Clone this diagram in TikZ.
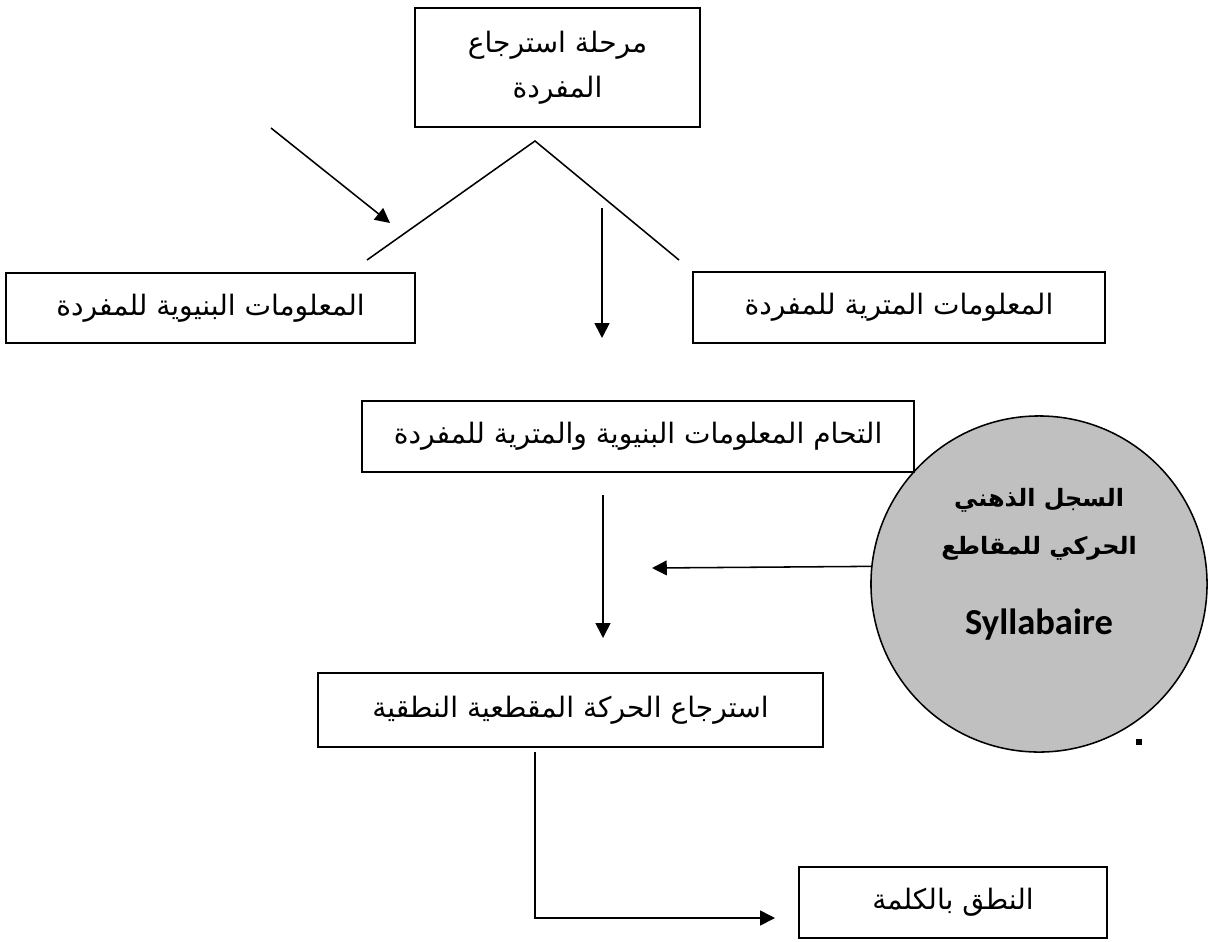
\documentclass[tikz,border=0pt]{standalone}
\usepackage{fontspec}
\usepackage{tikz}
\usetikzlibrary{arrows.meta, shapes.geometric}
\newfontfamily\arabicfont[Script=Arabic]{DejaVu Sans}
\newfontfamily\latinbold{Carlito}
\TeXXeTstate=1
\tikzset{
  box/.style = {draw, line width=1.3pt, fill=white, inner sep=0pt, font=\arabicfont\fontsize{20}{32}\selectfont, align=center},
  conn/.style = {line width=1.1pt},
  arr/.style = {conn, -{Triangle[length=10.5pt, width=10.5pt]}}
}

\begin{document}
\begin{tikzpicture}[x=0.025cm, y=-0.025cm]
    \useasboundingbox (0,0) rectangle (1208,941);
    % Cerchio del sillabario
    \node[circle, draw, line width=1.1pt, fill={rgb,255:red,192;green,192;blue,192}, minimum size=8.4cm, inner sep=0pt] (syl) at (1039,584) {};
    \node[font=\arabicfont\bfseries\fontsize{17}{26}\selectfont] (syla) at (1039,500) {\beginR السجل الذهني\endR};
    \node[font=\arabicfont\bfseries\fontsize{17}{26}\selectfont] (sylb) at (1039,548) {\beginR الحركي للمقاطع\endR};
    \node[font=\latinbold\bfseries\fontsize{26}{30}\selectfont] (sylc) at (1039,625) {Syllabaire};
    % Riquadri
    \node[box, minimum width=7.125cm, minimum height=2.975cm] (tappa) at (557.5,67.5) {\beginR مرحلة استرجاع\endR\\\beginR المفردة\endR};
    \node[box, minimum width=10.225cm, minimum height=1.75cm] (strut) at (210.5,308) {\beginR المعلومات البنيوية للمفردة\endR};
    \node[box, minimum width=10.3cm, minimum height=1.775cm] (metr) at (899,307.5) {\beginR المعلومات المترية للمفردة\endR};
    \node[box, minimum width=13.8cm, minimum height=1.775cm] (fus) at (638,436.5) {\beginR التحام المعلومات البنيوية والمترية للمفردة\endR};
    \node[box, minimum width=12.625cm, minimum height=1.85cm] (recup) at (570.5,710) {\beginR استرجاع الحركة المقطعية النطقية\endR};
    \node[box, minimum width=7.7cm, minimum height=1.775cm] (pron) at (953,902.5) {\beginR النطق بالكلمة\endR};
    % punto isolato
    \fill (1136,739) rectangle (1142,745);
    % Punti di appoggio dei connettori
    \coordinate (apice) at (535,141);
    \coordinate (vsx) at (367,260);
    \coordinate (vdx) at (679,260);
    \coordinate (dA) at (271,128);
    \coordinate (dB) at (390,223);
    \coordinate (cA) at (602,208);
    \coordinate (cB) at (602,338);
    \coordinate (mA) at (603,495);
    \coordinate (mB) at (603,638);
    \coordinate (hB) at (652,568);
    \coordinate (lA) at (535,752);
    \coordinate (lC) at (775,918);
    % Connettori
    \draw[conn] (vsx) -- (apice) -- (vdx);
    \draw[arr] (dA) -- (dB);
    \draw[arr] (cA) -- (cB);
    \draw[arr] (mA) -- (mB);
    \draw[arr] (syl.174.5) -- (hB);
    \draw[arr] (lA) |- (lC);
\end{tikzpicture}
\end{document}
